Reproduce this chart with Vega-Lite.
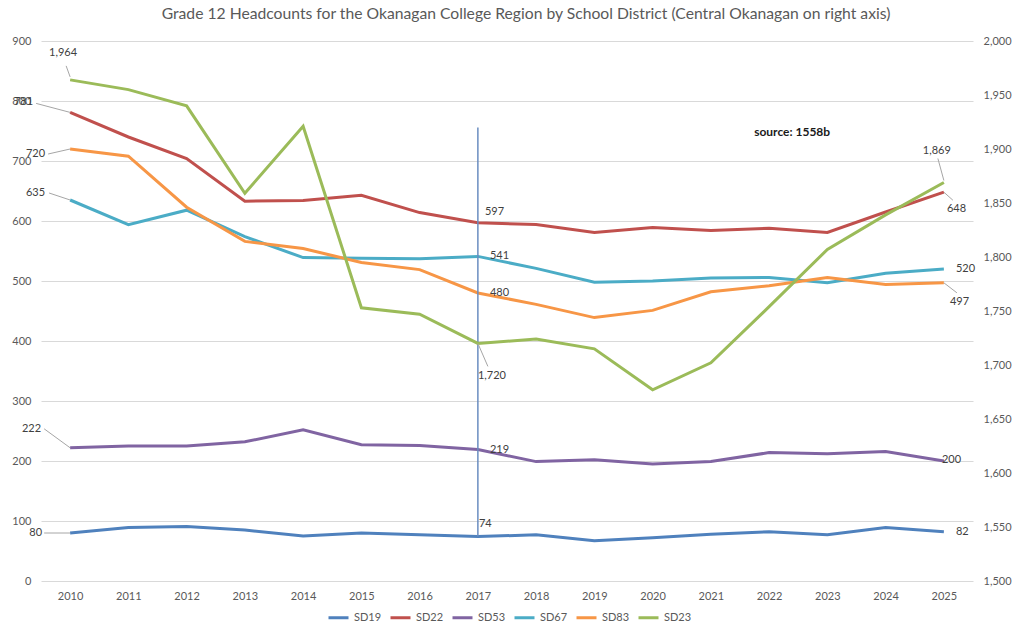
{
  "$schema": "https://vega.github.io/schema/vega-lite/v6.json",
  "width": 932,
  "height": 540,
  "autosize": {"type": "none"},
  "padding": {"left": 41, "top": 41, "right": 40, "bottom": 45},
  "title": {
    "text": "Grade 12 Headcounts for the Okanagan College Region by School District (Central Okanagan on right axis)",
    "anchor": "middle",
    "offset": 12,
    "dx": 19,
    "fontSize": 15.7,
    "fontWeight": "normal",
    "color": "#595959",
    "font": "Lato"
  },
  "config": {
    "view": {"stroke": null},
    "font": "Lato",
    "axis": {
      "labelColor": "#595959",
      "labelFontSize": 11,
      "labelFont": "Lato",
      "domain": false,
      "ticks": false,
      "gridColor": "#d9d9d9",
      "gridWidth": 1,
      "title": null
    },
    "legend": {
      "labelColor": "#595959",
      "labelFontSize": 11,
      "labelFont": "Lato",
      "symbolType": "stroke",
      "symbolStrokeWidth": 3,
      "symbolSize": 400,
      "columnPadding": 2
    },
    "text": {"color": "#404040", "fontSize": 11, "font": "Lato", "baseline": "middle"}
  },
  "data": {
    "values": [
      {"year": "2010", "sd": "SD19", "value": 80},
      {"year": "2011", "sd": "SD19", "value": 89},
      {"year": "2012", "sd": "SD19", "value": 91},
      {"year": "2013", "sd": "SD19", "value": 85},
      {"year": "2014", "sd": "SD19", "value": 75},
      {"year": "2015", "sd": "SD19", "value": 80},
      {"year": "2016", "sd": "SD19", "value": 77},
      {"year": "2017", "sd": "SD19", "value": 74},
      {"year": "2018", "sd": "SD19", "value": 77},
      {"year": "2019", "sd": "SD19", "value": 67},
      {"year": "2020", "sd": "SD19", "value": 72},
      {"year": "2021", "sd": "SD19", "value": 78},
      {"year": "2022", "sd": "SD19", "value": 82},
      {"year": "2023", "sd": "SD19", "value": 77},
      {"year": "2024", "sd": "SD19", "value": 89},
      {"year": "2025", "sd": "SD19", "value": 82},
      {"year": "2010", "sd": "SD22", "value": 781},
      {"year": "2011", "sd": "SD22", "value": 740},
      {"year": "2012", "sd": "SD22", "value": 704},
      {"year": "2013", "sd": "SD22", "value": 633},
      {"year": "2014", "sd": "SD22", "value": 634},
      {"year": "2015", "sd": "SD22", "value": 643},
      {"year": "2016", "sd": "SD22", "value": 614},
      {"year": "2017", "sd": "SD22", "value": 597},
      {"year": "2018", "sd": "SD22", "value": 594},
      {"year": "2019", "sd": "SD22", "value": 581},
      {"year": "2020", "sd": "SD22", "value": 589},
      {"year": "2021", "sd": "SD22", "value": 584},
      {"year": "2022", "sd": "SD22", "value": 588},
      {"year": "2023", "sd": "SD22", "value": 581},
      {"year": "2024", "sd": "SD22", "value": 615},
      {"year": "2025", "sd": "SD22", "value": 648},
      {"year": "2010", "sd": "SD53", "value": 222},
      {"year": "2011", "sd": "SD53", "value": 225},
      {"year": "2012", "sd": "SD53", "value": 225},
      {"year": "2013", "sd": "SD53", "value": 232},
      {"year": "2014", "sd": "SD53", "value": 252},
      {"year": "2015", "sd": "SD53", "value": 227},
      {"year": "2016", "sd": "SD53", "value": 226},
      {"year": "2017", "sd": "SD53", "value": 219},
      {"year": "2018", "sd": "SD53", "value": 199},
      {"year": "2019", "sd": "SD53", "value": 202},
      {"year": "2020", "sd": "SD53", "value": 195},
      {"year": "2021", "sd": "SD53", "value": 199},
      {"year": "2022", "sd": "SD53", "value": 214},
      {"year": "2023", "sd": "SD53", "value": 212},
      {"year": "2024", "sd": "SD53", "value": 216},
      {"year": "2025", "sd": "SD53", "value": 200},
      {"year": "2010", "sd": "SD67", "value": 635},
      {"year": "2011", "sd": "SD67", "value": 594},
      {"year": "2012", "sd": "SD67", "value": 618},
      {"year": "2013", "sd": "SD67", "value": 574},
      {"year": "2014", "sd": "SD67", "value": 539},
      {"year": "2015", "sd": "SD67", "value": 538},
      {"year": "2016", "sd": "SD67", "value": 537},
      {"year": "2017", "sd": "SD67", "value": 541},
      {"year": "2018", "sd": "SD67", "value": 521},
      {"year": "2019", "sd": "SD67", "value": 498},
      {"year": "2020", "sd": "SD67", "value": 500},
      {"year": "2021", "sd": "SD67", "value": 505},
      {"year": "2022", "sd": "SD67", "value": 506},
      {"year": "2023", "sd": "SD67", "value": 497},
      {"year": "2024", "sd": "SD67", "value": 513},
      {"year": "2025", "sd": "SD67", "value": 520},
      {"year": "2010", "sd": "SD83", "value": 720},
      {"year": "2011", "sd": "SD83", "value": 708},
      {"year": "2012", "sd": "SD83", "value": 623},
      {"year": "2013", "sd": "SD83", "value": 566},
      {"year": "2014", "sd": "SD83", "value": 554},
      {"year": "2015", "sd": "SD83", "value": 531},
      {"year": "2016", "sd": "SD83", "value": 519},
      {"year": "2017", "sd": "SD83", "value": 480},
      {"year": "2018", "sd": "SD83", "value": 461},
      {"year": "2019", "sd": "SD83", "value": 439},
      {"year": "2020", "sd": "SD83", "value": 451},
      {"year": "2021", "sd": "SD83", "value": 482},
      {"year": "2022", "sd": "SD83", "value": 492},
      {"year": "2023", "sd": "SD83", "value": 506},
      {"year": "2024", "sd": "SD83", "value": 494},
      {"year": "2025", "sd": "SD83", "value": 497},
      {"year": "2010", "sd": "SD23", "value": 1964},
      {"year": "2011", "sd": "SD23", "value": 1955},
      {"year": "2012", "sd": "SD23", "value": 1940},
      {"year": "2013", "sd": "SD23", "value": 1859},
      {"year": "2014", "sd": "SD23", "value": 1921},
      {"year": "2015", "sd": "SD23", "value": 1753},
      {"year": "2016", "sd": "SD23", "value": 1747},
      {"year": "2017", "sd": "SD23", "value": 1720},
      {"year": "2018", "sd": "SD23", "value": 1724},
      {"year": "2019", "sd": "SD23", "value": 1715},
      {"year": "2020", "sd": "SD23", "value": 1677},
      {"year": "2021", "sd": "SD23", "value": 1702},
      {"year": "2022", "sd": "SD23", "value": 1754},
      {"year": "2023", "sd": "SD23", "value": 1807},
      {"year": "2024", "sd": "SD23", "value": 1839},
      {"year": "2025", "sd": "SD23", "value": 1869}
    ]
  },
  "encoding": {
    "x": {
      "field": "year",
      "type": "ordinal",
      "scale": {"type": "point", "padding": 0.5},
      "axis": {"labelAngle": 0, "labelPadding": 9, "grid": false}
    }
  },
  "layer": [
    {
      "transform": [{"filter": "datum.sd != 'SD23'"}],
      "encoding": {
        "y": {
          "field": "value",
          "type": "quantitative",
          "scale": {"domain": [0, 900], "nice": false, "zero": false},
          "axis": {"values": [0, 100, 200, 300, 400, 500, 600, 700, 800, 900], "grid": true, "labelPadding": 10, "orient": "left"}
        }
      },
      "layer": [
        {
          "mark": {"type": "line", "strokeWidth": 3},
          "encoding": {
            "color": {
              "field": "sd",
              "type": "nominal",
              "scale": {
                "domain": ["SD19", "SD22", "SD53", "SD67", "SD83", "SD23"],
                "range": ["#4f81bd", "#c0504d", "#8064a2", "#4bacc6", "#f79646", "#9bbb59"]
              },
              "legend": {"title": null, "orient": "none", "direction": "horizontal", "legendX": 286, "legendY": 565}
            }
          }
        },
        {
          "transform": [{"filter": "datum.year == '2017' && datum.sd == 'SD19'"}],
          "mark": {"type": "rule", "color": "#6a8dc0", "strokeWidth": 1.5},
          "encoding": {
            "y": {"datum": 756},
            "y2": {"field": "value"}
          }
        },
        {
          "transform": [{"filter": "datum.year == '2022' && datum.sd == 'SD22'"}],
          "mark": {"type": "text", "align": "center", "fontSize": 12, "fontWeight": "bold", "color": "#1a1a1a", "dx": 23},
          "encoding": {
            "y": {"datum": 748},
            "text": {"value": "source: 1558b"}
          }
        },
        {
          "transform": [{"filter": "datum.year == '2010' && datum.sd == 'SD22'"}],
          "mark": {"type": "rule", "color": "#a6a6a6", "strokeWidth": 1, "x2Offset": -34, "y2Offset": -9},
          "encoding": {"x2": {"field": "year"}, "y2": {"field": "value"}}
        },
        {
          "transform": [{"filter": "datum.year == '2010' && datum.sd == 'SD83'"}],
          "mark": {"type": "rule", "color": "#a6a6a6", "strokeWidth": 1, "x2Offset": -22, "y2Offset": 5},
          "encoding": {"x2": {"field": "year"}, "y2": {"field": "value"}}
        },
        {
          "transform": [{"filter": "datum.year == '2010' && datum.sd == 'SD67'"}],
          "mark": {"type": "rule", "color": "#a6a6a6", "strokeWidth": 1, "x2Offset": -21, "y2Offset": -7},
          "encoding": {"x2": {"field": "year"}, "y2": {"field": "value"}}
        },
        {
          "transform": [{"filter": "datum.year == '2010' && datum.sd == 'SD53'"}],
          "mark": {"type": "rule", "color": "#a6a6a6", "strokeWidth": 1, "x2Offset": -26, "y2Offset": -19},
          "encoding": {"x2": {"field": "year"}, "y2": {"field": "value"}}
        },
        {
          "transform": [{"filter": "datum.year == '2010' && datum.sd == 'SD19'"}],
          "mark": {"type": "rule", "color": "#a6a6a6", "strokeWidth": 1, "x2Offset": -26, "y2Offset": 0},
          "encoding": {"x2": {"field": "year"}, "y2": {"field": "value"}}
        },
        {
          "transform": [{"filter": "datum.year == '2025' && datum.sd == 'SD22'"}],
          "mark": {"type": "rule", "color": "#a6a6a6", "strokeWidth": 1, "x2Offset": 9, "y2Offset": 8},
          "encoding": {"x2": {"field": "year"}, "y2": {"field": "value"}}
        },
        {
          "transform": [{"filter": "datum.year == '2025' && datum.sd == 'SD83'"}],
          "mark": {"type": "rule", "color": "#a6a6a6", "strokeWidth": 1, "x2Offset": 13, "y2Offset": 10},
          "encoding": {"x2": {"field": "year"}, "y2": {"field": "value"}}
        },
        {
          "transform": [{"filter": "datum.year == '2010' && datum.sd == 'SD22'"}],
          "mark": {"type": "text", "align": "right", "dx": -37, "dy": -10},
          "encoding": {"text": {"field": "value", "type": "quantitative", "format": ","}}
        },
        {
          "transform": [{"filter": "datum.year == '2010' && datum.sd == 'SD83'"}],
          "mark": {"type": "text", "align": "right", "dx": -25, "dy": 5},
          "encoding": {"text": {"field": "value", "type": "quantitative", "format": ","}}
        },
        {
          "transform": [{"filter": "datum.year == '2010' && datum.sd == 'SD67'"}],
          "mark": {"type": "text", "align": "right", "dx": -25, "dy": -7},
          "encoding": {"text": {"field": "value", "type": "quantitative", "format": ","}}
        },
        {
          "transform": [{"filter": "datum.year == '2010' && datum.sd == 'SD53'"}],
          "mark": {"type": "text", "align": "right", "dx": -29, "dy": -19},
          "encoding": {"text": {"field": "value", "type": "quantitative", "format": ","}}
        },
        {
          "transform": [{"filter": "datum.year == '2010' && datum.sd == 'SD19'"}],
          "mark": {"type": "text", "align": "right", "dx": -28, "dy": 0},
          "encoding": {"text": {"field": "value", "type": "quantitative", "format": ","}}
        },
        {
          "transform": [{"filter": "datum.year == '2017' && datum.sd == 'SD22'"}],
          "mark": {"type": "text", "align": "left", "dx": 7, "dy": -11},
          "encoding": {"text": {"field": "value", "type": "quantitative", "format": ","}}
        },
        {
          "transform": [{"filter": "datum.year == '2017' && datum.sd == 'SD19'"}],
          "mark": {"type": "text", "align": "left", "dx": 1, "dy": -13},
          "encoding": {"text": {"field": "value", "type": "quantitative", "format": ","}}
        },
        {
          "transform": [{"filter": "(datum.year == '2017' && (datum.sd == 'SD67' || datum.sd == 'SD83' || datum.sd == 'SD53')) || (datum.year == '2025' && (datum.sd == 'SD67' || datum.sd == 'SD19'))"}],
          "mark": {"type": "text", "align": "left", "dx": 12, "dy": 0},
          "encoding": {"text": {"field": "value", "type": "quantitative", "format": ","}}
        },
        {
          "transform": [{"filter": "datum.year == '2025' && datum.sd == 'SD22'"}],
          "mark": {"type": "text", "align": "left", "dx": 3, "dy": 17},
          "encoding": {"text": {"field": "value", "type": "quantitative", "format": ","}}
        },
        {
          "transform": [{"filter": "datum.year == '2025' && datum.sd == 'SD83'"}],
          "mark": {"type": "text", "align": "left", "dx": 6, "dy": 19},
          "encoding": {"text": {"field": "value", "type": "quantitative", "format": ","}}
        },
        {
          "transform": [{"filter": "datum.year == '2025' && datum.sd == 'SD53'"}],
          "mark": {"type": "text", "align": "left", "dx": -2, "dy": -1},
          "encoding": {"text": {"field": "value", "type": "quantitative", "format": ","}}
        }
      ]
    },
    {
      "transform": [{"filter": "datum.sd == 'SD23'"}],
      "encoding": {
        "y": {
          "field": "value",
          "type": "quantitative",
          "scale": {"domain": [1500, 2000], "nice": false, "zero": false},
          "axis": {"orient": "right", "values": [1500, 1550, 1600, 1650, 1700, 1750, 1800, 1850, 1900, 1950, 2000], "labelExpr": "format(datum.value, ',')", "grid": false, "labelPadding": 10}
        }
      },
      "layer": [
        {
          "mark": {"type": "line", "strokeWidth": 3},
          "encoding": {"color": {"field": "sd", "type": "nominal"}}
        },
        {
          "transform": [{"filter": "datum.year == '2010'"}],
          "mark": {"type": "rule", "color": "#a6a6a6", "strokeWidth": 1, "yOffset": -3, "x2Offset": -4, "y2Offset": -14},
          "encoding": {"x2": {"field": "year"}, "y2": {"field": "value"}}
        },
        {
          "transform": [{"filter": "datum.year == '2017'"}],
          "mark": {"type": "rule", "color": "#a6a6a6", "strokeWidth": 1, "x2Offset": 10, "y2Offset": 23},
          "encoding": {"x2": {"field": "year"}, "y2": {"field": "value"}}
        },
        {
          "transform": [{"filter": "datum.year == '2025'"}],
          "mark": {"type": "rule", "color": "#a6a6a6", "strokeWidth": 1, "yOffset": -2, "x2Offset": -6, "y2Offset": -24},
          "encoding": {"x2": {"field": "year"}, "y2": {"field": "value"}}
        },
        {
          "transform": [{"filter": "datum.year == '2010'"}],
          "mark": {"type": "text", "align": "center", "dx": -7, "dy": -27},
          "encoding": {"text": {"field": "value", "type": "quantitative", "format": ","}}
        },
        {
          "transform": [{"filter": "datum.year == '2017'"}],
          "mark": {"type": "text", "align": "left", "dx": 0, "dy": 33},
          "encoding": {"text": {"field": "value", "type": "quantitative", "format": ","}}
        },
        {
          "transform": [{"filter": "datum.year == '2025'"}],
          "mark": {"type": "text", "align": "center", "dx": -7, "dy": -31},
          "encoding": {"text": {"field": "value", "type": "quantitative", "format": ","}}
        }
      ]
    }
  ],
  "resolve": {"scale": {"y": "independent"}}
}
